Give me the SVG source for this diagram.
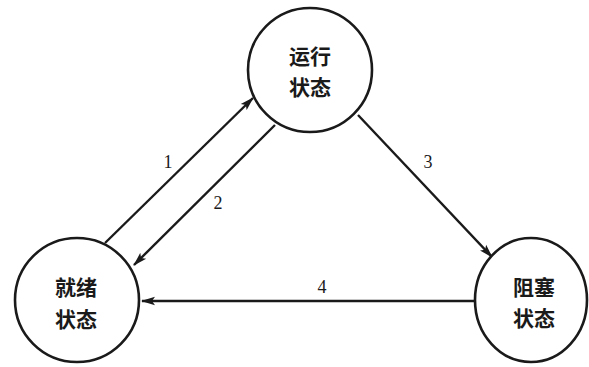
<svg xmlns="http://www.w3.org/2000/svg" width="589" height="367" viewBox="0 0 589 367">
<style>
.node{fill:#fff;stroke:#1a1a1a;stroke-width:2.6}
.lbl{font-family:"Noto Sans CJK SC","Noto Sans CJK JP",sans-serif;font-size:21px;font-weight:700;fill:#1a1a1a;text-anchor:middle}
.num{font-family:"Liberation Serif",serif;font-size:18px;fill:#1a1a1a;text-anchor:middle}
.edge{stroke:#1a1a1a;stroke-width:2.4;fill:none;marker-end:url(#ah)}
</style>
<defs>
<marker id="ah" markerWidth="14" markerHeight="10" refX="13" refY="5" orient="auto" markerUnits="userSpaceOnUse">
<path d="M0,0.8 L14,5 L0,9.2 L3,5 Z" fill="#1a1a1a"/>
</marker>
</defs>
<rect width="589" height="367" fill="#fff"/>
<g id="connectors">
<line class="edge" x1="105" y1="243" x2="253" y2="98"/>
<line class="edge" x1="275" y1="125" x2="134" y2="265"/>
<line class="edge" x1="358" y1="115" x2="492" y2="257"/>
<line class="edge" x1="475" y1="301" x2="142" y2="301"/>
<text class="num" x="168" y="168">1</text>
<text class="num" x="218" y="209">2</text>
<text class="num" x="428" y="168">3</text>
<text class="num" x="322" y="293">4</text>
</g>
<g id="running">
<circle class="node" cx="310" cy="70" r="62"/>
<text class="lbl" x="310" y="64">运行</text>
<text class="lbl" x="310" y="95">状态</text>
</g>
<g id="ready">
<circle class="node" cx="77" cy="300" r="62"/>
<text class="lbl" x="76" y="295">就绪</text>
<text class="lbl" x="76" y="327">状态</text>
</g>
<g id="blocked">
<ellipse class="node" cx="531" cy="300" rx="56" ry="62"/>
<text class="lbl" x="534" y="295">阻塞</text>
<text class="lbl" x="534" y="326">状态</text>
</g>
</svg>
